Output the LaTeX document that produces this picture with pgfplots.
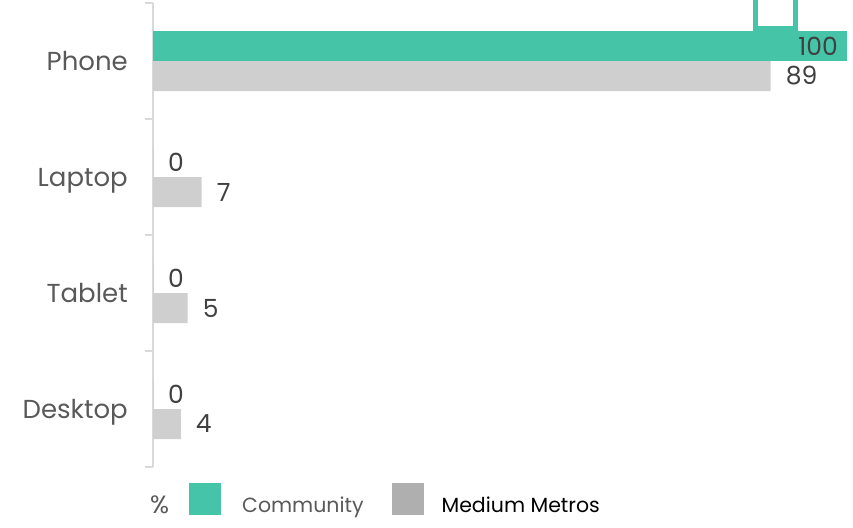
\documentclass[border=0pt]{standalone}
\usepackage{fontspec}
\setmainfont{Poppins}
\usepackage{pgfplots}
\pgfplotsset{compat=1.18}
\definecolor{teal1}{HTML}{45C4A8}
\definecolor{barg}{HTML}{D0CFCF}
\definecolor{legg}{HTML}{AFAFAF}
\definecolor{axg}{HTML}{D9D9D9}
\definecolor{txt}{HTML}{595959}
\definecolor{val}{HTML}{404040}
\begin{document}
\begin{tikzpicture}
\path[use as bounding box] (0,0) rectangle (853pt,527pt);
\begin{axis}[
 at={(153pt,60pt)}, anchor=south west,
 scale only axis, width=694pt, height=464pt,
 xmin=0, xmax=100, ymin=-0.5, ymax=3.5, y dir=reverse,
 clip=false,
 axis x line=none, axis y line*=left,
 y axis line style={draw=axg, line width=1.5pt},
 ytick={0,1,2,3}, yticklabels={Phone,Laptop,Tablet,Desktop},
 minor ytick={-0.5,0.5,1.5,2.5,3.5},
 major tick length=0pt, minor tick length=8pt, tick align=outside,
 minor tick style={draw=axg, line width=1.5pt},
 yticklabel style={font=\fontsize{26}{30}\selectfont, text=txt, inner sep=0pt, xshift=-25pt,
   text height=18pt, text depth=0pt},
 /pgf/number format/assume math mode=true,
 point meta=x,
 nodes near coords,
 every node near coord/.style={anchor=west, inner sep=0pt, xshift=15pt, text=val, font=\fontsize{25}{30}\selectfont},
 legend columns=3,
 legend cell align=left,
 legend style={at={(axis description cs:0,0)}, anchor=north west, xshift=-3pt, yshift=-16pt,
   draw=none, fill=none, inner sep=0pt, font=\fontsize{20.5}{25}\selectfont, text=txt,
   nodes={inner sep=0pt}, column sep=0pt},
]
\addlegendimage{empty legend}
\addlegendentry{\raisebox{-12pt}{\fontsize{25}{30}\selectfont\%}}
\addplot[xbar, bar width=30pt, bar shift=15pt, fill=teal1, draw=none,
  every node near coord/.append style={anchor=east, xshift=-24pt, yshift=15pt},
  legend image code/.code={\path (-20pt,0pt); \fill[teal1] (0pt,-16pt) rectangle (32pt,16pt);}]
  coordinates {(100,0)};
\addlegendentry{\hspace{21pt}\raisebox{-12pt}{Community}}
\addplot[xbar, bar width=30pt, bar shift=-15pt, fill=barg, draw=none,
  every node near coord/.append style={yshift=-15pt},
  legend image code/.code={\path (-28pt,0pt); \fill[legg] (0pt,-16pt) rectangle (32pt,16pt);}]
  coordinates {(89,0) (7,1) (5,2) (4,3)};
\addlegendentry{\hspace{18pt}\raisebox{-12pt}{\textcolor{black}{Medium Metros}}}
\addplot[xbar, bar width=30pt, bar shift=15pt, fill=teal1, draw=none, forget plot,
  every node near coord/.append style={yshift=15pt}]
  coordinates {(0,1) (0,2) (0,3)};
\draw[teal1, line width=5pt] (axis cs:86.82,-0.6) -- (axis cs:86.82,-0.2845) -- (axis cs:92.58,-0.2845) -- (axis cs:92.58,-0.6);
\end{axis}
\end{tikzpicture}
\end{document}
